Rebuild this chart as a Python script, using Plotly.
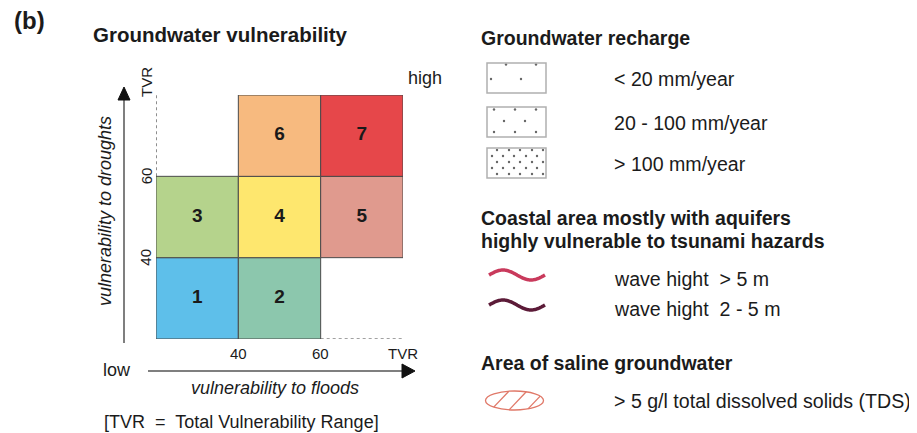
import numpy as np
import plotly.graph_objects as go

# ---------------- data ----------------
cell_labels = ["1", "2", "3", "4", "5", "6", "7"]
flood_lo = [20, 40, 20, 40, 60, 40, 60]
flood_hi = [40, 60, 40, 60, 80, 60, 80]
drought_lo = [20, 20, 40, 40, 40, 60, 60]
drought_hi = [40, 40, 60, 60, 60, 80, 80]
cell_colors = ["#5EBFEA", "#8CC7AD", "#B5D38C", "#FEE76E", "#E09A8E", "#F7BA7F", "#E6474A"]

tick_vals = [40, 60, 80]
tick_text = ["40", "60", "TVR"]

recharge_labels = ["< 20 mm/year", "20 - 100 mm/year", "> 100 mm/year"]
wave_labels = ["wave hight  > 5 m", "wave hight  2 - 5 m"]
wave_colors = ["#C93A5C", "#5C1B38"]
saline_label = "> 5 g/l total dissolved solids (TDS)"

FONT = "Liberation Sans, Arial, sans-serif"
TXT = "#1b1b1b"
OFF = 8            # page body margin
W, H = 917 - OFF, 433 - OFF

fig = go.Figure()
shapes = []
annots = []

# ---------------- vulnerability grid (TVR units on x2/y2) ----------------
for lab, x0, x1, y0, y1, c in zip(cell_labels, flood_lo, flood_hi, drought_lo, drought_hi, cell_colors):
    shapes.append(dict(type="rect", xref="x2", yref="y2", x0=x0, x1=x1, y0=y0, y1=y1,
                       fillcolor=c, line=dict(color="#4a4a4a", width=1), layer="below"))
fig.add_trace(go.Scatter(
    x=[(a + b) / 2 for a, b in zip(flood_lo, flood_hi)],
    y=[(a + b) / 2 for a, b in zip(drought_lo, drought_hi)],
    text=cell_labels, mode="text", xaxis="x2", yaxis="y2",
    textfont=dict(family=FONT, size=19, color="#1a1a1a", weight="bold"),
    hoverinfo="skip", showlegend=False))

# dashed guides
shapes.append(dict(type="line", xref="x2", yref="y2", x0=20, x1=20, y0=60, y1=80,
                   line=dict(color="#444", width=1.2, dash="3px,3px")))
shapes.append(dict(type="line", xref="x2", yref="y2", x0=60, x1=80, y0=20, y1=20,
                   line=dict(color="#444", width=1.2, dash="3px,3px")))

# tick labels
for v, t in zip(tick_vals, tick_text):
    annots.append(dict(x=v, xref="x2", y=353, yref="y", text=t, showarrow=False,
                       font=dict(family=FONT, size=15, color=TXT)))
    if t == "TVR":
        annots.append(dict(x=146, xref="x", y=82, yref="y", text=t, showarrow=False, textangle=-90,
                           font=dict(family=FONT, size=15, color=TXT)))
    else:
        annots.append(dict(x=146, xref="x", y=v, yref="y2", text=t, showarrow=False, textangle=-90,
                           font=dict(family=FONT, size=15, color=TXT)))

# axis arrows (pixel coords)
shapes.append(dict(type="line", xref="x", yref="y", x0=148, x1=403, y0=371, y1=371,
                   line=dict(color="#555", width=1.5)))
shapes.append(dict(type="path", xref="x", yref="y", path="M 402 364 L 415 371 L 402 378 Z",
                   fillcolor="#111", line=dict(color="#111", width=1)))
shapes.append(dict(type="line", xref="x", yref="y", x0=124, x1=124, y0=343, y1=99,
                   line=dict(color="#555", width=1.5)))
shapes.append(dict(type="path", xref="x", yref="y", path="M 118 100 L 124 87 L 130 100 Z",
                   fillcolor="#111", line=dict(color="#111", width=1)))

def txt(x, y, s, size=18, bold=False, italic=False, anchor="left", angle=0):
    annots.append(dict(x=x, y=y, xref="x", yref="y", text=s, showarrow=False,
                       xanchor=anchor, yanchor="middle", textangle=angle,
                       font=dict(family=FONT, size=size, color=TXT,
                                 weight="bold" if bold else "normal",
                                 style="italic" if italic else "normal")))

txt(12, 20, "(b)", size=24, bold=True)
txt(91, 34, "Groundwater vulnerability", size=20.5, bold=True)
txt(425, 78, "high", size=18, anchor="center")
txt(117, 370, "low", size=18, anchor="center")
txt(275, 388, "vulnerability to floods", size=18, italic=True, anchor="center")
txt(105, 211, "vulnerability to droughts", size=18, italic=True, anchor="center", angle=-90)
txt(241, 422, "[TVR  =  Total Vulnerability Range]", size=18, anchor="center")

# ---------------- right-hand legend ----------------
RB, RL = 19.5, 19.6
LX = 479      # bold headers
TX = 612      # item labels
txt(LX, 38, "Groundwater recharge", size=RB, bold=True)
box_tops = [63, 107, 148]
for top, lab in zip(box_tops, recharge_labels):
    shapes.append(dict(type="rect", xref="x", yref="y", x0=487, x1=546, y0=top, y1=top + 30,
                       line=dict(color="#b0b0b0", width=1.5), fillcolor="rgba(0,0,0,0)"))
    txt(TX, top + 16, lab, size=RL)

# dot patterns
dx, dy = [], []
for (px, py) in [(506, 64.5), (536, 64.5), (491, 79), (521, 79)]:
    dx.append(px); dy.append(py)
for row, yy in enumerate([109.5, 121, 132]):
    xs = [494, 515, 536] if row != 1 else [504, 525]
    for xx in xs:
        dx.append(xx); dy.append(yy)
for row, yy in enumerate([150, 156, 162, 168, 174]):
    xs = [497, 509, 520, 532, 543] if row % 2 == 0 else [492, 503, 514, 526, 537]
    for xx in xs:
        dx.append(xx); dy.append(yy)
fig.add_trace(go.Scatter(x=dx, y=dy, mode="markers", xaxis="x", yaxis="y",
                         marker=dict(size=2.4, color="#666"), hoverinfo="skip", showlegend=False))

txt(LX, 218, "Coastal area mostly with aquifers", size=RB, bold=True)
txt(LX, 241, "highly vulnerable to tsunami hazards", size=RB, bold=True)
wave_centers = [275, 305]
wx = np.linspace(489, 545, 80)
for cy, col, lab in zip(wave_centers, wave_colors, wave_labels):
    wy = cy - 5 * np.sin(2 * np.pi * (wx - 489) / 56)
    fig.add_trace(go.Scatter(x=wx, y=wy, mode="lines", xaxis="x", yaxis="y",
                             line=dict(color=col, width=3.5, shape="spline"),
                             hoverinfo="skip", showlegend=False))
    txt(TX, cy + 4, lab, size=RL)

txt(LX, 363, "Area of saline groundwater", size=RB, bold=True)
ecx, ecy, ea, eb = 514.5, 400.5, 29, 9.5
shapes.append(dict(type="circle", xref="x", yref="y", x0=ecx - ea, x1=ecx + ea, y0=ecy - eb, y1=ecy + eb,
                   line=dict(color="#E07868", width=1.3), fillcolor="rgba(0,0,0,0)"))
# hatch lines clipped to ellipse
ddx, ddy = 1.0, -1.05
for xc in [500, 518, 536]:
    A = (ddx / ea) ** 2 + (ddy / eb) ** 2
    Bq = 2 * ((xc - ecx) * ddx / ea ** 2)
    C = ((xc - ecx) / ea) ** 2 - 1
    disc = Bq * Bq - 4 * A * C
    if disc > 0:
        t1 = (-Bq - np.sqrt(disc)) / (2 * A)
        t2 = (-Bq + np.sqrt(disc)) / (2 * A)
        shapes.append(dict(type="line", xref="x", yref="y",
                           x0=xc + t1 * ddx, y0=ecy + t1 * ddy, x1=xc + t2 * ddx, y1=ecy + t2 * ddy,
                           line=dict(color="#E07868", width=1.3)))
txt(TX, 401, saline_label, size=RL)

fig.update_layout(
    width=W, height=H, margin=dict(l=0, r=0, t=0, b=0),
    paper_bgcolor="white", plot_bgcolor="rgba(0,0,0,0)",
    xaxis=dict(range=[OFF, OFF + W], domain=[0, 1], visible=False, fixedrange=True),
    yaxis=dict(range=[OFF + H, OFF], domain=[0, 1], visible=False, fixedrange=True),
    xaxis2=dict(range=[20, 80], domain=[(156 - OFF) / W, (403 - OFF) / W], anchor="y2", visible=False),
    yaxis2=dict(range=[20, 80], domain=[1 - (339 - OFF) / H, 1 - (95 - OFF) / H], anchor="x2", visible=False),
    shapes=shapes, annotations=annots, showlegend=False,
)
fig.write_html("out.html")
